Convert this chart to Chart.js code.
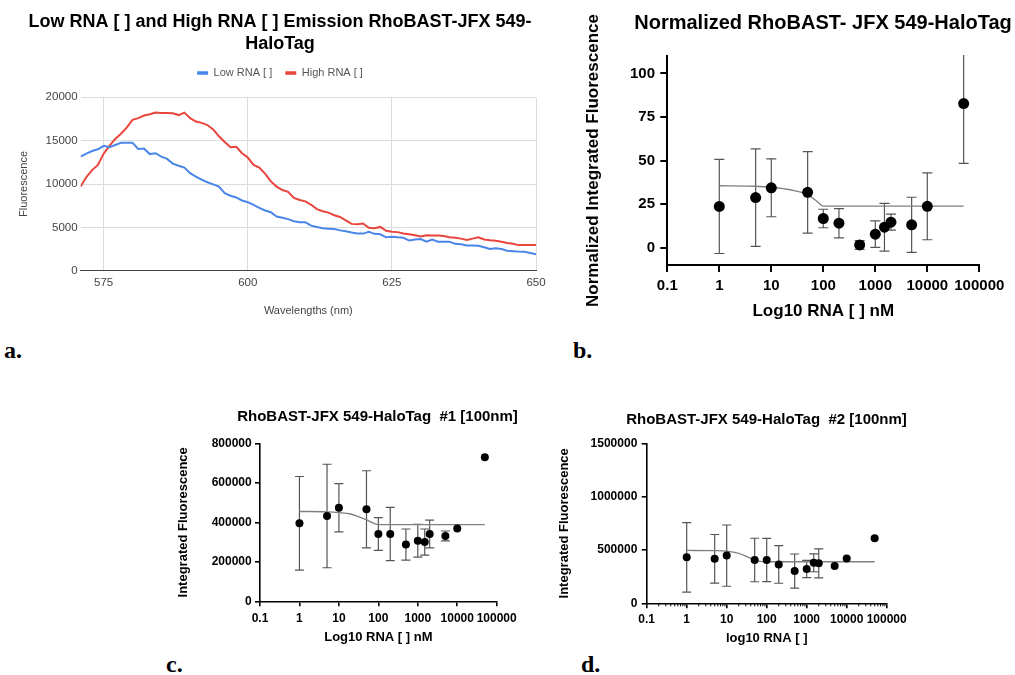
<!DOCTYPE html>
<html><head><meta charset="utf-8">
<script src="https://cdn.jsdelivr.net/npm/chart.js@4"></script>
<style>
html,body{margin:0;padding:0;width:1015px;height:675px;overflow:hidden;background:#fff;}
canvas{position:absolute;}
.lbl{position:absolute;font-family:"Liberation Serif","DejaVu Serif",serif;font-weight:bold;font-size:24px;line-height:24px;color:#000;}
</style></head><body>
<canvas id="ca" width="560" height="330" style="left:0px;top:0px"></canvas>
<canvas id="cb" width="496" height="330" style="left:575px;top:0px"></canvas>
<canvas id="cc" width="425" height="260" style="left:165px;top:390px"></canvas>
<canvas id="cd" width="433" height="260" style="left:550px;top:390px"></canvas>
<div class="lbl" style="left:4px;top:338px">a.</div>
<div class="lbl" style="left:573px;top:338px">b.</div>
<div class="lbl" style="left:166px;top:652px">c.</div>
<div class="lbl" style="left:581px;top:652px">d.</div>
<script>
// ---------- Panel a data ----------
const wavelengths = [571,572,573,574,575,576,577,578,579,580,581,582,583,584,585,586,587,588,589,590,
  591,592,593,594,595,596,597,598,599,600,601,602,603,604,605,606,607,608,609,610,
  611,612,613,614,615,616,617,618,619,620,621,622,623,624,625,626,627,628,629,630,
  631,632,633,634,635,636,637,638,639,640,641,642,643,644,645,646,647,648,649,650];
const lowRNA = [13150,13500,13800,14000,14400,14250,14500,14750,14750,14750,
  14050,14100,13450,13550,13150,12900,12350,12100,11900,11250,
  10850,10500,10200,9950,9700,8950,8650,8450,8100,7900,
  7600,7250,6950,6750,6250,6100,5950,5700,5600,5580,
  5200,5050,4900,4850,4800,4650,4550,4400,4300,4280,
  4480,4250,4200,3850,3920,3850,3800,3480,3600,3650,
  3350,3600,3350,3350,3330,3100,3050,2900,2900,2880,
  2700,2500,2580,2500,2300,2250,2200,2180,2050,1900];
const highRNA = [9700,10800,11600,12200,13500,14400,15200,15800,16500,17400,
  17600,17900,18050,18250,18200,18200,18150,17950,18230,17600,
  17200,17050,16800,16300,15500,14850,14250,14300,13550,13050,
  12200,11900,11200,10300,9700,9300,9100,8400,8150,8000,
  7600,7100,6850,6700,6400,6200,5800,5400,5350,5450,
  4950,4900,5050,4600,4500,4450,4300,4200,4100,3950,
  4100,4050,4050,4000,3850,3800,3700,3550,3700,3850,
  3600,3500,3450,3350,3200,3100,2950,2950,2950,2950];
const xTicksA = [575,600,625,650];
const yTicksA = [0,5000,10000,15000,20000];

// ---------- Panels b, c, d data ----------
const concentrations = [1,5,10,50,100,200,500,1000,1500,2000,5000,10000,50000];
const normMean = [23.6,28.7,34.3,31.7,16.7,14.0,1.5,7.7,11.7,14.6,13.1,23.7,82.7];
const normSD   = [27,28,16.6,23.4,5.3,8.4,2.5,7.6,13.7,4.6,15.8,19.2,34.4];
const fitXB = [1,5,10,23,50,75,100,50000];
const fitYB = [35.5,35.2,34.6,33.2,30.4,26.6,23.8,23.8];

const rep1Mean = [395000,432000,474000,466000,341000,341000,287000,307000,300000,341000,331000,368000,729000];
const rep1SD   = [237000,262000,122000,195000,83000,135000,79000,83000,66000,70000,25000,0,0];
const fitXC = [1,5,10,20,30,50,75,100,50000];
const fitYC = [455000,453000,449000,442000,430000,412000,396000,388000,388000];

const rep2Mean = [431000,417000,447000,406000,406000,364000,302000,321000,380000,375000,350000,419000,611000];
const rep2SD   = [326000,228000,287000,204000,203000,176000,160000,81000,84000,136000,0,0,0];
const fitXD = [1,5,10,20,30,40,60,100,50000];
const fitYD = [496000,494000,489000,468000,442000,420000,398000,390000,390000];

const logTicks = [0.1,1,10,100,1000,10000,100000];
const yTicksB = [0,25,50,75,100];
const yTicksC = [0,200000,400000,600000,800000];
const yTicksD = [0,500000,1000000,1500000];
const minorTicksD = [];
for (let i = 0; i < logTicks.length - 1; i++) for (let m = 2; m <= 9; m++) minorTicksD.push(logTicks[i] * m);

const FONT = '"Liberation Sans", Arial, sans-serif';
const pts = (xs, ys) => xs.map((x, i) => ({x: x, y: ys[i]}));
const plain = v => String(v);

// ---------- plugins ----------
const errorBars = {
  id: 'errorBars',
  beforeDatasetsDraw(chart) {
    const {ctx, chartArea, scales} = chart;
    chart.data.datasets.forEach((ds) => {
      if (!ds.errors) return;
      const xs = scales[ds.xAxisID || 'x'], ys = scales[ds.yAxisID || 'y'];
      ctx.save();
      ctx.beginPath();
      ctx.rect(chartArea.left, chartArea.top - 1, chartArea.width, chartArea.height + 1);
      ctx.clip();
      ctx.strokeStyle = ds.errColor; ctx.lineWidth = ds.errWidth;
      ds.data.forEach((p, j) => {
        const e = ds.errors[j];
        if (!e) return;
        const px = xs.getPixelForValue(p.x);
        const t = ys.getPixelForValue(p.y + e), b = ys.getPixelForValue(p.y - e);
        ctx.beginPath();
        ctx.moveTo(px, t); ctx.lineTo(px, b);
        ctx.moveTo(px - ds.errCap, t); ctx.lineTo(px + ds.errCap, t);
        ctx.moveTo(px - ds.errCap, b); ctx.lineTo(px + ds.errCap, b);
        ctx.stroke();
      });
      ctx.restore();
    });
  }
};
const minorTicks = {
  id: 'minorTicks',
  afterDraw(chart, args, opts) {
    if (!opts || !opts.values) return;
    const {ctx} = chart; const x = chart.scales.x;
    ctx.save(); ctx.strokeStyle = '#000'; ctx.lineWidth = 1;
    opts.values.forEach(v => {
      const px = x.getPixelForValue(v);
      ctx.beginPath(); ctx.moveTo(px, x.top); ctx.lineTo(px, x.top + opts.length); ctx.stroke();
    });
    ctx.restore();
  }
};
const legendSpacer = {
  id: 'legendSpacer',
  afterInit(chart, args, opts) {
    const lg = chart.legend; if (!lg) return;
    const orig = lg.fit.bind(lg);
    lg.fit = function () { orig(); this.height += (opts && opts.extra) || 0; };
  }
};

// ---------- Panel a ----------
const gFont = (s) => ({family: FONT, size: s});
new Chart(document.getElementById('ca'), {
  type: 'line',
  data: {datasets: [
    {label: 'Low RNA [ ]', data: pts(wavelengths, lowRNA), borderColor: '#4a86e8', backgroundColor: '#4a86e8', borderWidth: 2, pointRadius: 0, tension: 0, yAxisID: 'y'},
    {label: 'High RNA [ ]', data: pts(wavelengths, highRNA), borderColor: '#e8453c', backgroundColor: '#e8453c', borderWidth: 2, pointRadius: 0, tension: 0, yAxisID: 'y'}
  ]},
  options: {
    responsive: false, animation: false, events: [],
    layout: {padding: 0},
    plugins: {
      title: {display: true, text: ['Low RNA [ ] and High RNA [ ] Emission RhoBAST-JFX 549-', 'HaloTag'],
        font: {family: FONT, size: 18, weight: 'bold', lineHeight: 1.2}, color: '#000', padding: {top: 11.2, bottom: 0}},
      legend: {display: true, position: 'top',
        labels: {usePointStyle: true, pointStyle: 'line', pointStyleWidth: 11, boxHeight: 11, font: gFont(11), color: '#555', padding: 13,
          generateLabels: (c) => Chart.defaults.plugins.legend.labels.generateLabels(c).map(l => Object.assign(l, {lineWidth: 3.5}))}},
      tooltip: {enabled: false},
      legendSpacer: {extra: 8.9}
    },
    scales: {
      x: {type: 'linear', min: 571, max: 650,
        afterBuildTicks: s => { s.ticks = xTicksA.map(v => ({value: v})); },
        ticks: {font: gFont(11.5), color: '#444', padding: 5.5, maxRotation: 0, autoSkip: false, callback: plain},
        grid: {color: '#dcdcdc', drawTicks: false, lineWidth: 1},
        border: {display: true, color: '#444', width: 1},
        title: {display: true, text: 'Wavelengths (nm)', font: gFont(11), color: '#444', padding: {top: 0, bottom: 12.4}},
        afterFit: s => { s.height = 59.3; s.paddingLeft = 0; s.paddingRight = 0; }},
      y: {type: 'linear', min: 0, max: 20000,
        afterBuildTicks: s => { s.ticks = yTicksA.map(v => ({value: v})); },
        ticks: {font: gFont(11.5), color: '#444', padding: 3, callback: plain},
        grid: {color: c => (c.tick && c.tick.value === 0) ? 'rgba(0,0,0,0)' : '#dcdcdc', drawTicks: false, lineWidth: 1},
        border: {display: false},
        title: {display: true, text: 'Fluorescence', font: gFont(11), color: '#444', padding: {top: 17.8, bottom: 0}},
        afterFit: s => { s.width = 80.6; s.paddingTop = 0; s.paddingBottom = 0; }},
      yr: {axis: 'y', type: 'linear', position: 'right', display: true,
        grid: {display: false}, ticks: {display: false}, border: {display: false},
        afterFit: s => { s.width = 24; }}
    }
  },
  plugins: [legendSpacer]
});

// ---------- Prism-style helper ----------
function prismChart(id, cfg) {
  const bold = (s) => ({family: FONT, size: s, weight: 'bold'});
  return new Chart(document.getElementById(id), {
    type: 'scatter',
    data: {datasets: [
      {data: pts(concentrations, cfg.mean), errors: cfg.sd, errCap: cfg.cap, errColor: '#555', errWidth: 1.2,
        pointRadius: cfg.r, pointBackgroundColor: '#000', pointBorderColor: '#000', pointBorderWidth: 0,
        backgroundColor: '#000', borderColor: '#000', xAxisID: 'x', yAxisID: 'y'},
      {data: pts(cfg.fitX, cfg.fitY), showLine: true, borderColor: '#808080', borderWidth: 1.4, pointRadius: 0,
        cubicInterpolationMode: 'monotone', xAxisID: 'x', yAxisID: 'y'}
    ]},
    options: {
      responsive: false, animation: false, events: [],
      layout: {padding: 0},
      plugins: {
        legend: {display: false}, tooltip: {enabled: false},
        title: {display: true, text: cfg.title, font: bold(cfg.titleSize), color: '#000', padding: {top: cfg.titleTop, bottom: cfg.titleBottom}},
        minorTicks: cfg.minor ? {values: cfg.minor, length: 3} : {}
      },
      scales: {
        x: {type: 'logarithmic', min: 0.1, max: 100000,
          afterBuildTicks: s => { s.ticks = logTicks.map(v => ({value: v})); },
          ticks: {font: bold(cfg.tickSize), color: '#000', padding: cfg.xPad, maxRotation: 0, autoSkip: false, callback: plain},
          grid: {drawOnChartArea: false, drawTicks: true, tickLength: cfg.tl, tickColor: '#000', tickWidth: cfg.aw, color: '#000', lineWidth: cfg.aw},
          border: {display: true, color: '#000', width: cfg.aw},
          title: {display: true, text: cfg.xTitle, font: bold(cfg.axisTitleSize), color: '#000', padding: {top: 0, bottom: cfg.xTitlePad}},
          afterFit: s => { s.height = cfg.xH; s.paddingLeft = 0; s.paddingRight = 0; }},
        y: {type: 'linear', min: cfg.yMin, max: cfg.yMax,
          afterBuildTicks: s => { s.ticks = cfg.yTicks.map(v => ({value: v})); },
          ticks: {font: bold(cfg.tickSize), color: '#000', padding: cfg.yPad, callback: plain},
          grid: {drawOnChartArea: false, drawTicks: true, tickLength: cfg.tl, tickColor: '#000', tickWidth: cfg.aw, color: '#000', lineWidth: cfg.aw},
          border: {display: true, color: '#000', width: cfg.aw},
          title: {display: true, text: cfg.yTitle, font: bold(cfg.axisTitleSize), color: '#000', padding: {top: cfg.yTitlePad, bottom: 0}},
          afterFit: s => { s.width = cfg.yW; s.paddingTop = 0; s.paddingBottom = 0; }},
        yr: {axis: 'y', type: 'linear', position: 'right', display: true,
          grid: {display: false}, ticks: {display: false}, border: {display: false},
          afterFit: s => { s.width = cfg.rW; }}
      }
    },
    plugins: [errorBars, minorTicks]
  });
}

// ---------- Panel b ----------
prismChart('cb', {
  mean: normMean, sd: normSD, fitX: fitXB, fitY: fitYB, cap: 5, r: 5.5,
  title: 'Normalized RhoBAST- JFX 549-HaloTag', titleSize: 20, titleTop: 11.3, titleBottom: 20.7,
  xTitle: 'Log10 RNA [ ] nM', yTitle: 'Normalized Integrated Fluorescence', axisTitleSize: 17, tickSize: 15,
  yMin: -10, yMax: 110, yTicks: yTicksB, tl: 7, aw: 2, xPad: 5, yPad: 5.3,
  xTitlePad: 8.1, yTitlePad: 8.1, xH: 65, yW: 92.3, rW: 91.7
});

// ---------- Panel c ----------
prismChart('cc', {
  mean: rep1Mean, sd: rep1SD, fitX: fitXC, fitY: fitYC, cap: 4.5, r: 4,
  title: 'RhoBAST-JFX 549-HaloTag  #1 [100nm]', titleSize: 15, titleTop: 18.3, titleBottom: 17,
  xTitle: 'Log10 RNA [ ] nM', yTitle: 'Integrated Fluorescence', axisTitleSize: 13, tickSize: 12,
  yMin: 0, yMax: 800000, yTicks: yTicksC, tl: 5, aw: 1.6, xPad: 4.8, yPad: 3.3,
  xTitlePad: 4.9, yTitlePad: 10.5, xH: 48.7, yW: 95, rW: 93.3
});

// ---------- Panel d ----------
prismChart('cd', {
  mean: rep2Mean, sd: rep2SD, fitX: fitXD, fitY: fitYD, cap: 4.5, r: 4, minor: minorTicksD,
  title: 'RhoBAST-JFX 549-HaloTag  #2 [100nm]', titleSize: 15, titleTop: 21, titleBottom: 14.3,
  xTitle: 'log10 RNA [ ]', yTitle: 'Integrated Fluorescence', axisTitleSize: 13, tickSize: 12,
  yMin: 0, yMax: 1500000, yTicks: yTicksD, tl: 5, aw: 1.6, xPad: 4.5, yPad: 4.4,
  xTitlePad: 3.9, yTitlePad: 6.2, xH: 46.7, yW: 96.7, rW: 96.3
});
</script>
</body></html>
